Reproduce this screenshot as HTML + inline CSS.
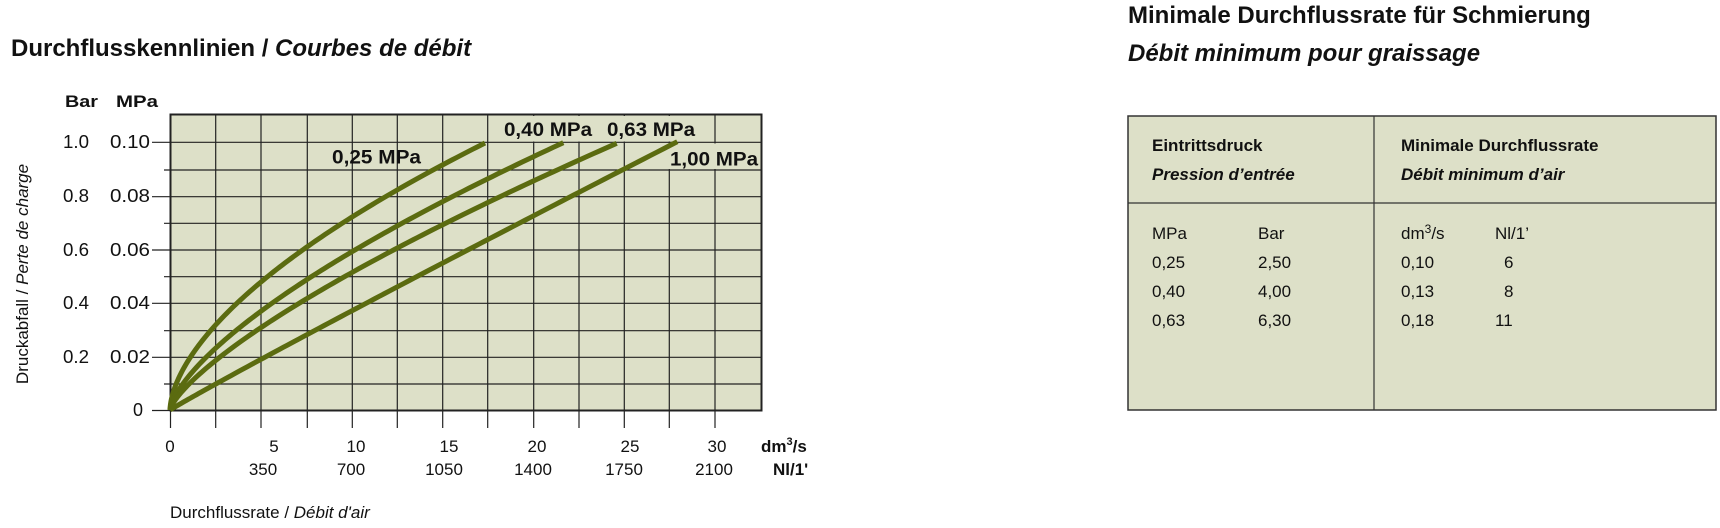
<!DOCTYPE html>
<html><head><meta charset="utf-8"><style>
body{margin:0;background:#fff;width:1720px;height:528px;overflow:hidden;font-family:"Liberation Sans",sans-serif;}
svg{position:absolute;left:0;top:0}
</style></head><body>
<svg width="1720" height="528" viewBox="0 0 1720 528" font-family="Liberation Sans, sans-serif">
<text x="11" y="56" font-size="24" font-weight="bold" fill="#111">Durchflusskennlinien / <tspan font-style="italic">Courbes de débit</tspan></text>
<text x="65" y="107" font-size="17" font-weight="bold" fill="#111" textLength="33" lengthAdjust="spacingAndGlyphs">Bar</text>
<text x="116" y="107" font-size="17" font-weight="bold" fill="#111" textLength="42" lengthAdjust="spacingAndGlyphs">MPa</text>
<rect x="170.5" y="114.5" width="591" height="296" fill="#dde0c8" stroke="#222" stroke-width="2"/>
<g stroke="#222" stroke-width="1.2">
<line x1="215.7" y1="114" x2="215.7" y2="428"/><line x1="261" y1="114" x2="261" y2="428"/><line x1="307.3" y1="114" x2="307.3" y2="428"/><line x1="352.3" y1="114" x2="352.3" y2="428"/><line x1="397.3" y1="114" x2="397.3" y2="428"/><line x1="442.7" y1="114" x2="442.7" y2="428"/><line x1="487.7" y1="114" x2="487.7" y2="428"/><line x1="533.7" y1="114" x2="533.7" y2="428"/><line x1="579" y1="114" x2="579" y2="428"/><line x1="624.3" y1="114" x2="624.3" y2="428"/><line x1="669.3" y1="114" x2="669.3" y2="428"/><line x1="715" y1="114" x2="715" y2="428"/>
<line x1="170.5" y1="410" x2="170.5" y2="428"/>
<line x1="152" y1="142.3" x2="762" y2="142.3"/><line x1="164" y1="170" x2="762" y2="170"/><line x1="152" y1="196.7" x2="762" y2="196.7"/><line x1="164" y1="223.3" x2="762" y2="223.3"/><line x1="152" y1="250" x2="762" y2="250"/><line x1="164" y1="276.7" x2="762" y2="276.7"/><line x1="152" y1="303.3" x2="762" y2="303.3"/><line x1="164" y1="330.7" x2="762" y2="330.7"/><line x1="152" y1="357.3" x2="762" y2="357.3"/><line x1="164" y1="384" x2="762" y2="384"/><line x1="152" y1="410.5" x2="170" y2="410.5"/>
</g>
<rect x="489" y="116" width="224" height="25.5" fill="#dde0c8"/>
<rect x="668" y="143.5" width="92" height="25.5" fill="#dde0c8"/>
<g id="curves" fill="none" stroke="#5b6b10" stroke-width="5" stroke-linejoin="round">
<path data-x="315" data-y="267" data-p="0.592" d="M170,410 L485,143"/>
<path data-x="393.3" data-y="267.3" data-p="0.68" d="M170,410 L563.3,142.7"/>
<path data-x="446.7" data-y="266.7" data-p="0.738" d="M170,410 L616.7,143.3"/>
<path data-x="507.3" data-y="268.3" data-p="0.97" d="M170,410 L677.3,141.7"/>
</g>
<g font-size="19" fill="#111" font-weight="bold">
<text x="332" y="163.3" textLength="89" lengthAdjust="spacingAndGlyphs">0,25 MPa</text>
<text x="504" y="136" textLength="88" lengthAdjust="spacingAndGlyphs">0,40 MPa</text>
<text x="607" y="136" textLength="88" lengthAdjust="spacingAndGlyphs">0,63 MPa</text>
<text x="670" y="165.7" textLength="88" lengthAdjust="spacingAndGlyphs">1,00 MPa</text>
</g>
<g font-size="18" fill="#111">
<text x="63" y="148" textLength="26" lengthAdjust="spacingAndGlyphs">1.0</text><text x="110" y="148" textLength="40" lengthAdjust="spacingAndGlyphs">0.10</text>
<text x="63" y="202" textLength="26" lengthAdjust="spacingAndGlyphs">0.8</text><text x="110" y="202" textLength="40" lengthAdjust="spacingAndGlyphs">0.08</text>
<text x="63" y="256" textLength="26" lengthAdjust="spacingAndGlyphs">0.6</text><text x="110" y="256" textLength="40" lengthAdjust="spacingAndGlyphs">0.06</text>
<text x="63" y="309" textLength="26" lengthAdjust="spacingAndGlyphs">0.4</text><text x="110" y="309" textLength="40" lengthAdjust="spacingAndGlyphs">0.04</text>
<text x="63" y="363" textLength="26" lengthAdjust="spacingAndGlyphs">0.2</text><text x="110" y="363" textLength="40" lengthAdjust="spacingAndGlyphs">0.02</text>
<text x="133" y="416">0</text>
</g>
<text transform="translate(28,274) rotate(-90)" text-anchor="middle" font-size="17" fill="#111">Druckabfall / <tspan font-style="italic">Perte de charge</tspan></text>
<g font-size="17" fill="#111" text-anchor="middle">
<text x="170" y="452">0</text><text x="274" y="452">5</text><text x="356" y="452">10</text><text x="449" y="452">15</text><text x="537" y="452">20</text><text x="630" y="452">25</text><text x="717" y="452">30</text>
<text x="263" y="475">350</text><text x="351" y="475">700</text><text x="444" y="475">1050</text><text x="533" y="475">1400</text><text x="624" y="475">1750</text><text x="714" y="475">2100</text>
</g>
<text x="761" y="452" font-size="17" font-weight="bold" fill="#111">dm<tspan font-size="11" dy="-7">3</tspan><tspan dy="7">/s</tspan></text>
<text x="773" y="475" font-size="17" font-weight="bold" fill="#111">Nl/1'</text>
<text x="170" y="518" font-size="17" fill="#111">Durchflussrate / <tspan font-style="italic">Débit d'air</tspan></text>

<text x="1128" y="23" font-size="24" font-weight="bold" fill="#111">Minimale Durchflussrate für Schmierung</text>
<text x="1128" y="61" font-size="24" font-weight="bold" font-style="italic" fill="#111">Débit minimum pour graissage</text>
<rect x="1128" y="116" width="588" height="294" fill="#dde0c8" stroke="#333" stroke-width="1.5"/>
<line x1="1374" y1="116" x2="1374" y2="410" stroke="#333" stroke-width="1.2"/>
<line x1="1128" y1="203" x2="1716" y2="203" stroke="#333" stroke-width="1.2"/>
<g font-size="17" fill="#111">
<text x="1152" y="151" font-weight="bold">Eintrittsdruck</text>
<text x="1152" y="180" font-weight="bold" font-style="italic">Pression d’entrée</text>
<text x="1401" y="151" font-weight="bold">Minimale Durchflussrate</text>
<text x="1401" y="180" font-weight="bold" font-style="italic">Débit minimum d’air</text>
<text x="1152" y="239">MPa</text><text x="1258" y="239">Bar</text>
<text x="1401" y="239">dm<tspan font-size="12" dy="-6">3</tspan><tspan dy="6">/s</tspan></text><text x="1495" y="239">Nl/1’</text>
<text x="1152" y="268">0,25</text><text x="1258" y="268">2,50</text><text x="1401" y="268">0,10</text><text x="1504" y="268">6</text>
<text x="1152" y="297">0,40</text><text x="1258" y="297">4,00</text><text x="1401" y="297">0,13</text><text x="1504" y="297">8</text>
<text x="1152" y="326">0,63</text><text x="1258" y="326">6,30</text><text x="1401" y="326">0,18</text><text x="1495" y="326">11</text>
</g>
</svg>
<script>
(function(){
document.querySelectorAll('#curves path').forEach(function(el){
  var X=+el.getAttribute('data-x'),Y=+el.getAttribute('data-y'),p=+el.getAttribute('data-p');
  var d="M170,410";
  for(var i=1;i<=120;i++){
    var t=i/120, dx=X*Math.pow(t,1.6), dy=Y*Math.pow(dx/X,p);
    d+=" L"+(170+dx).toFixed(2)+","+(410-dy).toFixed(2);
  }
  el.setAttribute('d',d);
});
})();
</script>
</body></html>
